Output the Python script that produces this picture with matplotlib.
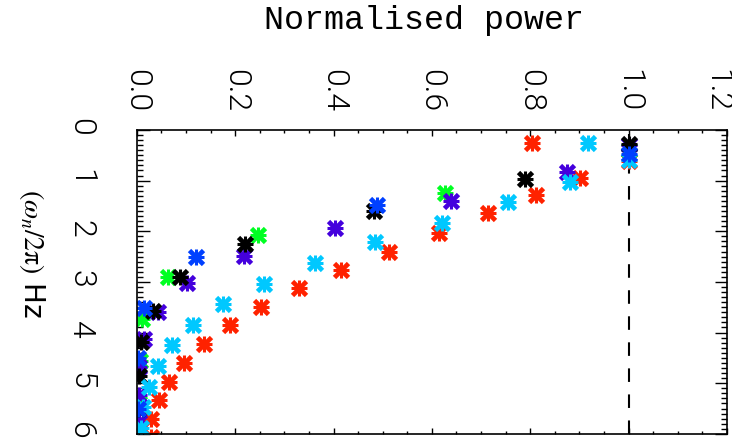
import numpy as np
import matplotlib
matplotlib.use('Agg')
import matplotlib.pyplot as plt
from matplotlib.ticker import MultipleLocator
from matplotlib.transforms import ScaledTranslation

# Normalised power (x) and frequency in Hz (y) for each series
red_p = [0.803, 1.0, 0.901, 0.811, 0.714, 0.615, 0.513, 0.416, 0.329, 0.252,
         0.189, 0.136, 0.095, 0.065, 0.045, 0.028, 0.028]
red_f = [0.25, 0.62, 0.94, 1.28, 1.63, 2.03, 2.40, 2.76, 3.13, 3.49,
         3.86, 4.22, 4.60, 4.97, 5.33, 5.71, 6.06]

cyan_p = [0.917, 1.0, 0.880, 0.755, 0.621, 0.485, 0.363, 0.258, 0.176, 0.114,
          0.071, 0.043, 0.024, 0.012, 0.008]
cyan_f = [0.25, 0.59, 1.02, 1.42, 1.83, 2.22, 2.62, 3.04, 3.43, 3.85,
          4.24, 4.66, 5.07, 5.47, 5.88]

black_p = [1.0, 0.789, 0.483, 0.219, 0.087, 0.032, 0.008, 0.004, 0.002]
black_f = [0.28, 0.96, 1.61, 2.25, 2.90, 3.57, 4.18, 4.85, 5.51]

blue_p = [1.0, 0.489, 0.120, 0.014, 0.002, 0.002]
blue_f = [0.48, 1.49, 2.50, 3.51, 4.50, 5.51]

green_p = [1.0, 0.627, 0.247, 0.063, 0.010, 0.006, 0.004]
green_f = [0.39, 1.24, 2.07, 2.90, 3.73, 4.56, 5.39]

purple_p = [1.0, 0.874, 0.639, 0.402, 0.217, 0.101, 0.043, 0.014, 0.004,
            0.004, 0.004]
purple_f = [0.29, 0.84, 1.40, 1.93, 2.48, 3.02, 3.59, 4.12, 4.68, 5.23, 5.76]

xticks = [0.0, 0.2, 0.4, 0.6, 0.8, 1.0, 1.2]
yticks = [0, 1, 2, 3, 4, 5, 6]

plt.rcParams['mathtext.fontset'] = 'stix'

fig = plt.figure(figsize=(7.32, 4.45), dpi=100)
ax = fig.add_axes([0.187, 0.025, 0.806, 0.683])

series = [
    (red_p, red_f, '#ff2200'),
    (green_p, green_f, '#00ff22'),
    (purple_p, purple_f, '#4400dd'),
    (black_p, black_f, 'black'),
    (cyan_p, cyan_f, '#00c8ff'),
    (blue_p, blue_f, '#0040ff'),
]
# IDL style asterisk: a thick x with a + on top
for p, f, c in series:
    ax.plot(p, f, ls='none', marker='x', ms=10, mew=3.4, color=c)
    ax.plot(p, f, ls='none', marker='+', ms=11, mew=2.2, color=c)

ax.axvline(1.0, color='black', lw=1.5, ls=(0, (6.5, 6)), zorder=1)

ax.set_xlim(0, 1.2)
ax.set_ylim(6, 0)
ax.set_xticks(xticks)
ax.set_yticks(yticks)
ax.set_xticklabels(['%.1f' % v for v in xticks])
ax.set_yticklabels([str(v) for v in yticks])
ax.xaxis.set_minor_locator(MultipleLocator(0.05))
ax.yaxis.set_minor_locator(MultipleLocator(0.1))

ax.xaxis.tick_top()
ax.tick_params(axis='x', which='both', direction='in', top=True, bottom=True,
               labeltop=True, labelbottom=False, labelrotation=-90,
               labelsize=23, pad=13)
ax.tick_params(axis='x', which='major', length=4.5, width=1)
ax.tick_params(axis='x', which='minor', length=2.3, width=1)
ax.tick_params(axis='y', which='both', direction='in', left=True, right=True,
               labelleft=True, labelrotation=-90, labelsize=23, pad=30)
ax.tick_params(axis='y', which='major', length=9, width=1)
ax.tick_params(axis='y', which='minor', length=4.5, width=1)
for lab in ax.get_xticklabels() + ax.get_yticklabels():
    lab.set_family('Roboto')
    lab.set_fontweight(300)
for s in ax.spines.values():
    s.set_linewidth(1.2)

# nudge the last x label back inside the figure
last = ax.get_xticklabels()[-1]
last.set_transform(last.get_transform() + ScaledTranslation(-10 / 100, 0, fig.dpi_scale_trans))

fig.text(0.579, 0.955, 'Normalised power', family='Liberation Mono',
         fontsize=24, ha='center', va='center')
fig.text(0.044, 0.431, r'$(\omega_n/2\mathrm{\pi})$ Hz', fontsize=20,
         rotation=-90, ha='center', va='center')

fig.savefig('out.png', dpi=100)
